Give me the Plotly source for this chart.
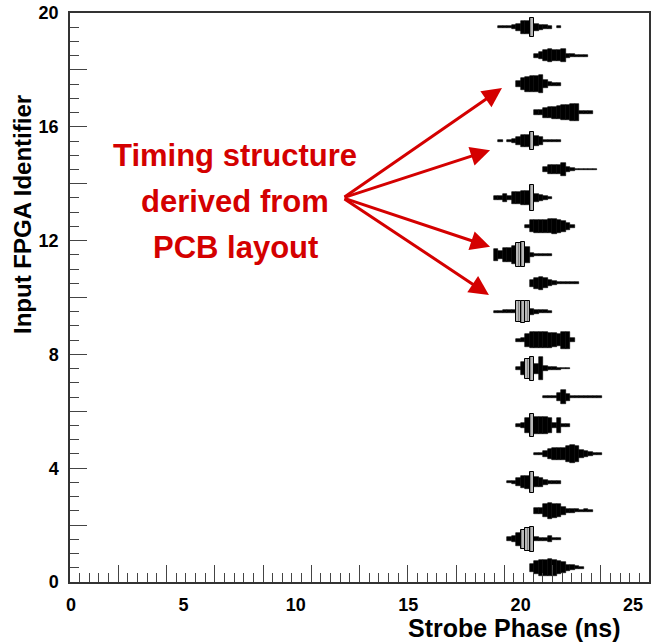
import plotly.graph_objects as go

# ---------------- data ----------------
BIN0 = 18.2          # ns, left edge of first phase bin
BIN_W = 0.2          # ns, phase bin width
fpga_ids = list(range(20))
# first bin index of each FPGA row
row_first_bin = [11, 6, 12, 6, 12, 8, 14, 8, 8, 3, 11, 3, 10, 3, 14, 4, 12, 8, 12, 4]
# relative occupancy per bin (fraction of row height)
row_heights = [
    [0.3, 0.45, 0.55, 0.58, 0.6, 0.55, 0.45, 0.4, 0.22, 0.18, 0.1, 0.07],
    [0.15, 0.22, 0.45, 0.65, 0.8, 0.88, 0.15, 0.12, 0.12, 0.2, 0.08, 0.08],
    [0.2, 0.2, 0.45, 0.55, 0.5, 0.45, 0.3, 0.15, 0.12, 0.1, 0.08, 0.1, 0.06],
    [0.07, 0.08, 0.28, 0.42, 0.45, 0.75, 0.35, 0.3, 0.15, 0.1, 0.08, 0.08],
    [0.05, 0.1, 0.2, 0.35, 0.4, 0.42, 0.45, 0.55, 0.62, 0.55, 0.25, 0.18, 0.12, 0.1, 0.08],
    [0.1, 0.15, 0.5, 0.8, 0.6, 0.6, 0.6, 0.55, 0.15, 0.5, 0.08, 0.08],
    [0.05, 0.07, 0.08, 0.3, 0.5, 0.25, 0.06, 0.06, 0.06, 0.06, 0.06, 0.06, 0.06],
    [0.12, 0.45, 0.7, 0.85, 0.35, 0.8, 0.15, 0.12, 0.1, 0.07, 0.06, 0.05],
    [0.1, 0.14, 0.45, 0.58, 0.58, 0.55, 0.55, 0.52, 0.5, 0.4, 0.6, 0.6, 0.12],
    [0.07, 0.08, 0.1, 0.12, 0.12, 0.75, 0.78, 0.75, 0.2, 0.15, 0.1, 0.1, 0.08],
    [0.25, 0.4, 0.45, 0.35, 0.2, 0.15, 0.06, 0.06, 0.06, 0.06, 0.06],
    [0.4, 0.3, 0.5, 0.5, 0.62, 0.85, 0.88, 0.55, 0.15, 0.08, 0.06, 0.06, 0.06],
    [0.1, 0.42, 0.48, 0.48, 0.48, 0.5, 0.52, 0.45, 0.4, 0.25, 0.1],
    [0.12, 0.14, 0.3, 0.15, 0.4, 0.45, 0.47, 0.47, 0.9, 0.3, 0.2, 0.12, 0.08],
    [0.2, 0.3, 0.35, 0.35, 0.45, 0.15, 0.12, 0.06, 0.06, 0.06, 0.06, 0.06],
    [0.05, 0.0, 0.08, 0.15, 0.3, 0.42, 0.45, 0.65, 0.35, 0.25, 0.1, 0.1, 0.1, 0.1],
    [0.2, 0.15, 0.35, 0.4, 0.42, 0.45, 0.5, 0.5, 0.6, 0.62, 0.1, 0.1, 0.1],
    [0.2, 0.4, 0.52, 0.55, 0.55, 0.62, 0.3, 0.14, 0.1, 0.1],
    [0.15, 0.25, 0.4, 0.45, 0.4, 0.38, 0.45, 0.14, 0.12, 0.06, 0.06, 0.06],
    [0.07, 0.07, 0.07, 0.14, 0.23, 0.45, 0.45, 0.68, 0.23, 0.16, 0.14, 0.11, 0.0, 0.07],
]
# bins drawn as grey (highest-occupancy bins)
row_grey_bins = [[], [9, 10, 11], [], [11], [], [11], [], [10, 11], [], [8, 9, 10],
                 [], [8, 9], [], [11], [], [11], [], [], [], [11]]

x_tick_vals = [0, 5, 10, 15, 20, 25]
y_tick_vals = list(range(0, 21, 2))
y_tick_text = [str(v) if v % 4 == 0 else "" for v in y_tick_vals]

annot_lines = ["Timing structure", "derived from", "PCB layout"]
annot_line_y = [15.0, 13.38, 11.76]
arrow_origin = (12.1, 13.5)
arrow_tips_x = [19.17, 18.64, 18.64, 18.59]
arrow_tips_y = [17.36, 15.18, 11.78, 10.09]

# ---------------- build ----------------
bx, bh, bb = [], [], []
gx, gh, gb = [], [], []
for rid, first, hs, greys in zip(fpga_ids, row_first_bin, row_heights, row_grey_bins):
    yc = rid + 0.5
    for i, h in enumerate(hs):
        if h <= 0:
            continue
        b = first + i
        xc = BIN0 + BIN_W * (b + 0.5)
        if b in greys:
            gx.append(xc); gh.append(h); gb.append(yc - h / 2)
        else:
            bx.append(xc); bh.append(h); bb.append(yc - h / 2)

fig = go.Figure()
fig.add_trace(go.Bar(x=bx, y=bh, base=bb, width=BIN_W,
                     marker=dict(color="black", line=dict(color="black", width=0.6)),
                     showlegend=False, hoverinfo="skip"))
fig.add_trace(go.Bar(x=gx, y=gh, base=gb, width=BIN_W,
                     marker=dict(color="#a8a8a8",
                                 pattern=dict(shape="|", fgcolor="#4a4a4a", bgcolor="#b8b8b8",
                                              size=3, solidity=0.35),
                                 line=dict(color="black", width=1)),
                     showlegend=False, hoverinfo="skip"))
# helper trace for the tick-mark axis
fig.add_trace(go.Scatter(x=[None], y=[None], xaxis="x2", yaxis="y",
                         showlegend=False, hoverinfo="skip"))

W, H = 654, 642
L, R, T, B = 70, 5, 13, 60
pw, ph = W - L - R, H - T - B

FONT = "Liberation Sans, Arial"
RED = "#D40000"
for txt, yy in zip(annot_lines, annot_line_y):
    fig.add_annotation(x=7.3, y=yy, xref="x", yref="y", text=f"<b>{txt}</b>", showarrow=False,
                       font=dict(family=FONT, size=31, color=RED),
                       xanchor="center", yanchor="middle")
for tx, ty in zip(arrow_tips_x, arrow_tips_y):
    fig.add_annotation(x=tx, y=ty, xref="x", yref="y",
                       ax=arrow_origin[0], ay=arrow_origin[1], axref="x", ayref="y",
                       text="", showarrow=True, arrowhead=2, arrowsize=1.3,
                       arrowwidth=3, arrowcolor=RED)

# axis titles
fig.add_annotation(x=(22 - L) / pw, y=(H - B - 215) / ph, xref="paper", yref="paper",
                   text="<b>Input FPGA Identifier</b>", showarrow=False, textangle=-90,
                   xanchor="center", yanchor="middle",
                   font=dict(family=FONT, size=24, color="black"))
fig.add_annotation(x=(514 - L) / pw, y=-(628 - (H - B)) / ph, xref="paper", yref="paper",
                   text="<b>Strobe Phase (ns)</b>", showarrow=False,
                   xanchor="center", yanchor="middle",
                   font=dict(family=FONT, size=25, color="black"))

tickfont = dict(family=FONT, size=18, color="black")
fig.update_layout(
    width=W, height=H, margin=dict(l=L, r=R, t=T, b=B, autoexpand=False),
    paper_bgcolor="white", plot_bgcolor="white", barmode="overlay", bargap=0,
    xaxis=dict(range=[-0.0445, 25.71], tickvals=x_tick_vals, ticktext=[f"<b>{v}</b>" for v in x_tick_vals],
               ticks="", showgrid=False, zeroline=False, tickfont=tickfont, automargin=False,
               showline=True, linecolor="#333", linewidth=1.5, mirror=True, ticklabelstandoff=6),
    xaxis2=dict(overlaying="x", anchor="y", side="bottom", range=[0, 12], dtick=1, tick0=0,
                ticks="inside", ticklen=17, tickwidth=1.3, tickcolor="#444", automargin=False,
                minor=dict(dtick=0.2, ticks="inside", ticklen=9, tickwidth=1.2, tickcolor="#444"),
                showticklabels=False, showgrid=False, zeroline=False, showline=False),
    yaxis=dict(range=[0, 20], tickvals=y_tick_vals, ticktext=[f"<b>{t}</b>" if t else "" for t in y_tick_text],
               ticks="inside", ticklen=17, tickwidth=1.3, tickcolor="#444", automargin=False,
               minor=dict(dtick=0.5, ticks="inside", ticklen=9, tickwidth=1.2, tickcolor="#444"),
               showgrid=False, zeroline=False, tickfont=tickfont, ticklabelstandoff=6,
               showline=True, linecolor="#333", linewidth=1.5, mirror=True),
)

fig.write_html("out.html", config={"displayModeBar": False},
               post_script="document.body.style.margin='0';document.body.style.overflow='hidden';")
